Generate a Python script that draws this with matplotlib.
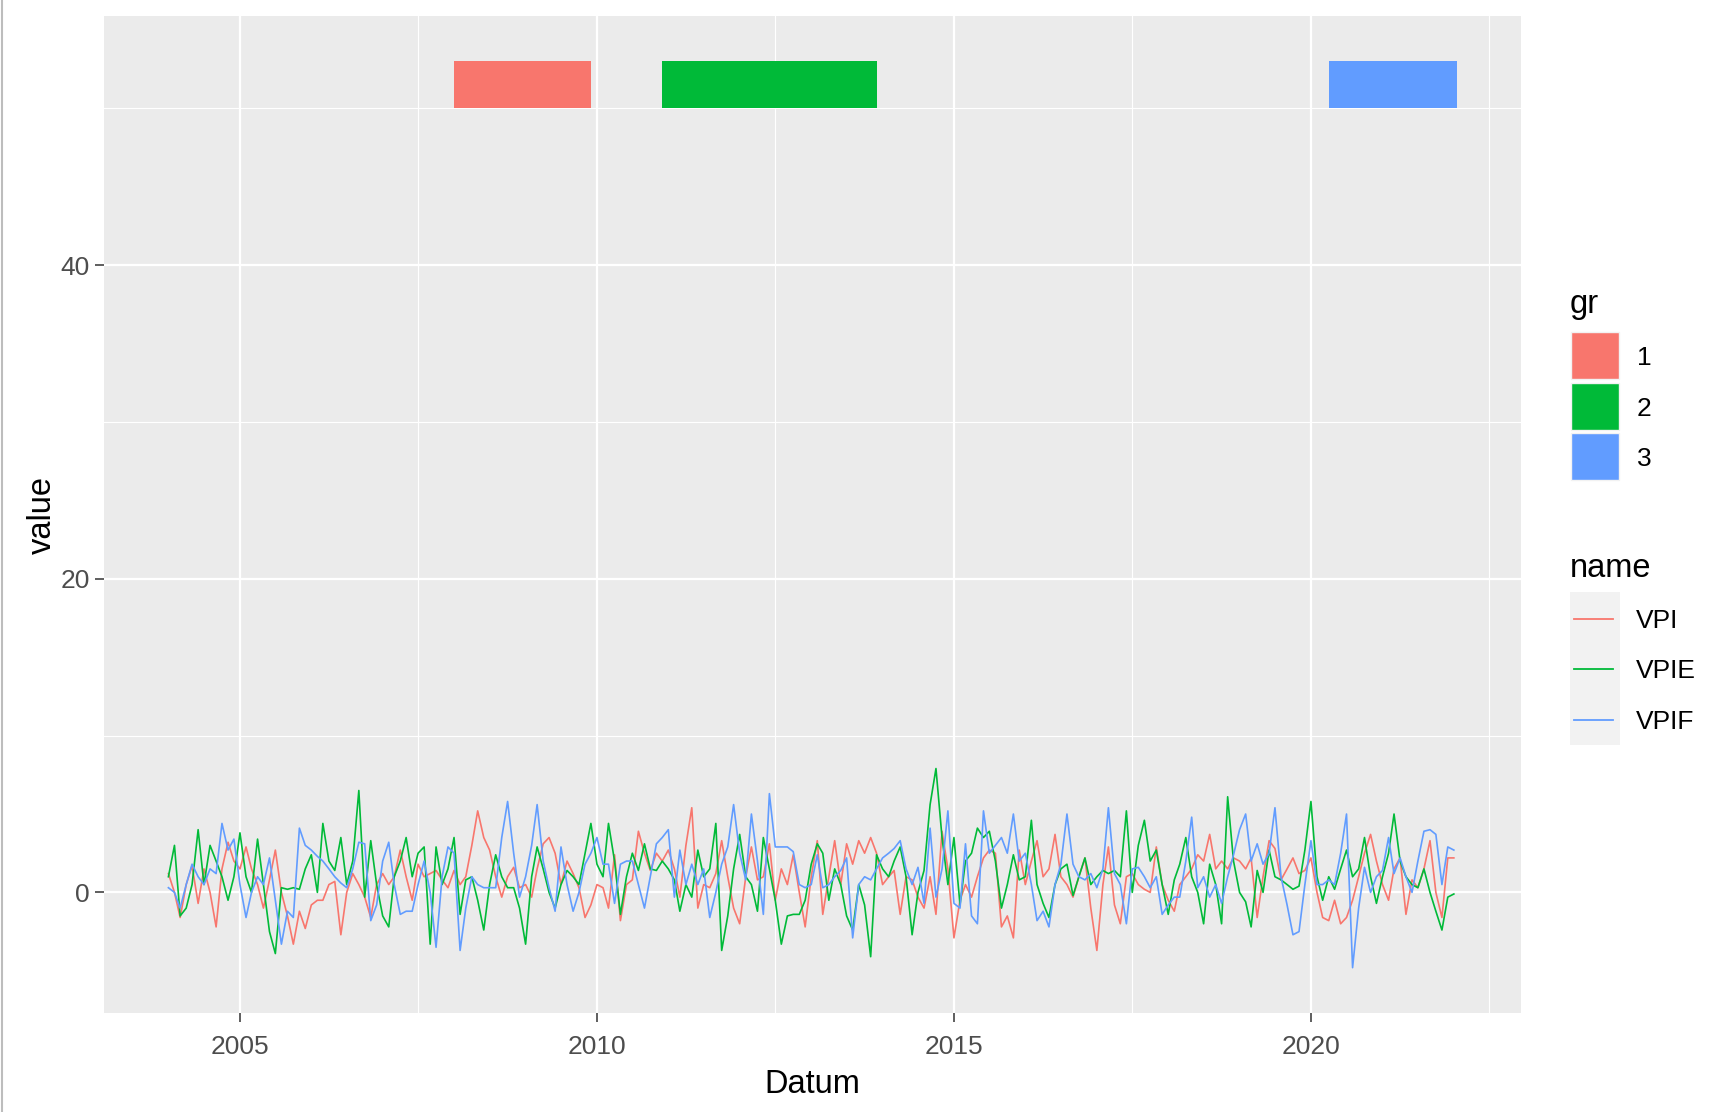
import matplotlib
matplotlib.use("Agg")
import matplotlib.pyplot as plt
import matplotlib.dates as mdates
from matplotlib.patches import Rectangle
from matplotlib.lines import Line2D
import pandas as pd
import numpy as np

plt.rcParams['font.family'] = ['Liberation Sans', 'DejaVu Sans']

# ---------------- data (monthly from Jan 2004) ----------------
start_month = "2004-01-01"

vpi = [1.2, 0.0, -1.6, 0.5, 1.7, -0.7, 1.5, 0.0, -2.2, 1.5, 3.2, 2.0,
       1.5, 2.9, 1.5, 0.5, -1.0, 0.8, 2.7, 0.0, -1.5, -3.3, -1.2, -2.3,
       -0.8, -0.5, -0.5, 0.5, 0.7, -2.7, 0.0, 1.2, 0.5, -0.3, -1.6, 0.5,
       1.2, 0.5, 1.0, 2.7, 1.0, -0.5, 1.8, 1.0, 1.2, 1.4, 0.8, 0.3,
       1.4, 0.5, 1.0, 3.0, 5.2, 3.5, 2.7, 1.0, -0.3, 1.0, 1.6, 0.3,
       0.5, -0.3, 1.5, 3.1, 3.5, 2.5, 0.5, 2.0, 1.2, 0.3, -1.6, -0.8,
       0.5, 0.3, -1.0, 2.4, -1.8, 0.5, 0.8, 3.9, 2.5, 1.4, 2.5, 2.0,
       2.7, 1.5, -0.3, 3.0, 5.4, -1.0, 0.5, 0.3, 1.2, 3.3, 1.0, -1.0,
       -2.0, 1.0, 2.9, 0.8, 1.0, 3.1, -0.5, 1.5, 0.5, 2.4, 0.0, -2.2,
       1.0, 3.3, -1.4, 1.0, 3.3, 0.5, 3.1, 1.8, 3.3, 2.5, 3.5, 2.5,
       0.5, 1.0, 1.4, -1.4, 1.0, 0.8, -0.3, -1.0, 1.0, -1.4, 3.9, 1.5,
       -2.9, -0.5, 0.5, -0.3, 1.0, 2.2, 2.7, 2.5, -2.2, -1.5, -2.9, 2.7,
       0.5, 2.0, 3.3, 1.0, 1.5, 3.7, 1.0, 0.5, -0.3, 1.0, 2.2, -1.0,
       -3.7, 0.5, 2.9, -0.8, -2.0, 1.0, 1.2, 0.5, 0.2, 0.0, 2.9, 0.5,
       -0.5, -1.2, 0.5, 1.0, 1.5, 2.4, 2.0, 3.7, 1.5, 2.0, 1.5, 2.2,
       2.0, 1.5, 2.2, -1.6, 1.0, 3.3, 2.8, 0.8, 1.5, 2.2, 1.2, 1.4,
       2.2, 0.0, -1.6, -1.8, -0.5, -2.0, -1.6, -0.5, 1.0, 2.5, 3.7, 2.0,
       0.5, -0.5, 1.5, 2.2, -1.4, 0.8, 0.3, 1.5, 3.3, 0.0, -1.6, 2.2,
       2.2]

vpie = [1.0, 3.0, -1.5, -1.0, 0.5, 4.0, 0.5, 3.0, 2.0, 1.0, -0.5, 1.0,
        3.8, 1.0, 0.0, 3.4, 0.5, -2.5, -3.9, 0.3, 0.2, 0.3, 0.2, 1.5,
        2.4, 0.0, 4.4, 2.0, 1.4, 3.5, 0.5, 2.0, 6.5, -0.3, 3.3, 0.5,
        -1.5, -2.2, 1.0, 2.0, 3.5, 1.0, 2.5, 2.9, -3.3, 2.9, 0.5, 1.5,
        3.5, -1.4, 0.8, 1.0, -0.5, -2.4, 0.5, 2.4, 1.0, 0.3, 0.3, -1.0,
        -3.3, 1.0, 2.9, 1.5, 0.0, -1.0, 0.5, 1.4, 1.0, 0.5, 2.5, 4.4,
        1.8, 1.0, 4.4, 2.0, -1.4, 1.0, 2.5, 1.4, 3.1, 1.5, 1.4, 2.0,
        1.5, 0.8, -1.2, 0.5, -0.3, 2.7, 1.0, 1.5, 4.4, -3.7, -1.5, 1.5,
        3.7, 1.0, 0.5, -1.2, 3.5, 1.5, -0.5, -3.3, -1.5, -1.4, -1.4, -0.5,
        1.8, 3.1, 2.5, -0.5, 1.5, 0.5, -1.5, -2.4, 0.5, -0.8, -4.1, 2.4,
        1.5, 1.0, 2.0, 2.9, 1.0, -2.7, 0.0, 1.4, 5.6, 7.9, 3.5, 0.5,
        3.5, -0.8, 2.0, 2.5, 4.1, 3.5, 3.9, 2.0, -1.0, 0.5, 2.4, 0.8,
        1.0, 4.6, 0.5, -0.7, -1.6, 0.5, 1.5, 1.8, -0.2, 1.0, 2.2, 0.5,
        1.0, 1.4, 1.2, 1.4, 1.0, 5.2, 0.0, 3.0, 4.6, 2.0, 2.7, 0.5,
        -1.4, 0.8, 1.8, 3.5, 1.0, 0.0, -2.0, 1.8, 0.5, -2.0, 6.1, 2.0,
        0.0, -0.6, -2.2, 1.4, 0.0, 2.7, 1.0, 0.8, 0.5, 0.2, 0.4, 2.7,
        5.8, 1.0, -0.5, 1.0, 0.2, 1.5, 2.7, 1.0, 1.5, 3.5, 1.0, -0.7,
        1.0, 2.5, 5.0, 2.0, 1.0, 0.5, 0.3, 1.5, 0.0, -1.2, -2.4, -0.3,
        -0.1]

vpif = [0.3, 0.0, -1.0, 0.5, 1.8, 1.0, 0.5, 1.5, 1.2, 4.4, 2.7, 3.4,
        0.5, -1.6, 0.0, 1.0, 0.5, 2.2, -0.5, -3.3, -1.2, -1.6, 4.1, 3.0,
        2.7, 2.3, 2.0, 1.5, 1.0, 0.6, 0.3, 1.5, 3.2, 3.1, -1.8, -0.8,
        2.0, 3.2, 0.5, -1.4, -1.2, -1.2, 0.5, 2.0, 0.0, -3.5, 1.0, 2.9,
        2.5, -3.7, -1.0, 1.0, 0.5, 0.3, 0.3, 0.3, 3.5, 5.8, 2.5, -0.3,
        1.0, 3.0, 5.6, 2.0, 0.3, -1.2, 2.9, 0.5, -1.2, 0.0, 1.8, 2.5,
        3.5, 1.8, 1.8, -0.7, 1.8, 2.0, 2.0, 0.5, -1.0, 1.0, 3.1, 3.5,
        4.0, -0.3, 2.7, 0.5, 1.8, 0.5, 1.5, -1.6, 0.0, 1.8, 2.9, 5.6,
        2.5, 0.8, 5.0, 2.0, -1.4, 6.3, 2.9, 2.9, 2.9, 2.6, 0.5, 0.3,
        0.5, 2.4, 0.3, 0.5, 1.0, 1.4, 2.2, -2.9, 0.5, 1.0, 0.8, 1.5,
        2.2, 2.5, 2.8, 3.3, 1.5, 0.5, 1.6, -0.7, 4.1, -0.3, 1.5, 5.2,
        -0.7, -1.0, 3.1, -1.5, -2.0, 5.2, 2.5, 3.0, 3.5, 2.5, 5.0, 2.0,
        2.5, 0.5, -1.8, -1.2, -2.2, 0.5, 1.8, 5.0, 1.8, 1.0, 0.8, 1.2,
        0.3, 1.5, 5.4, 1.2, 0.5, -2.0, 1.5, 1.6, 1.0, 0.3, 1.0, -1.4,
        -0.8, -0.3, -0.3, 2.0, 4.8, 0.3, 1.0, -0.3, 0.5, -0.7, 1.0, 2.4,
        4.0, 5.0, 2.0, 3.1, 1.8, 2.5, 5.4, 1.0, -0.8, -2.7, -2.5, 0.5,
        3.3, 0.5, 0.5, 0.8, 0.5, 2.5, 5.0, -4.8, -1.0, 1.6, 0.0, 1.0,
        1.4, 3.5, 1.2, 2.2, 1.0, 0.0, 2.0, 3.9, 4.0, 3.7, 0.5, 2.9,
        2.7]

series_names = ["VPI", "VPIE", "VPIF"]
series_values = [vpi, vpie, vpif]

gr_labels = ["1", "2", "3"]
gr_xmin = ["2008-01-01", "2010-12-01", "2020-04-01"]
gr_xmax = ["2009-12-01", "2013-12-01", "2022-01-15"]
gr_ymin = [50, 50, 50]
gr_ymax = [53, 53, 53]

x_tick_years = [2005, 2010, 2015, 2020]
y_ticks = [0, 20, 40]

# ---------------- style ----------------
hue = ["#F8766D", "#00BA38", "#619CFF"]
W, H = 1722, 1112
fig = plt.figure(figsize=(W / 100, H / 100), dpi=100)
fig.patch.set_facecolor("white")

L, R, T, B = 104, 1521, 16, 1013
ax = fig.add_axes([L / W, 1 - B / H, (R - L) / W, (B - T) / H])
ax.set_facecolor("#EBEBEB")
for s in ax.spines.values():
    s.set_visible(False)

dates = pd.date_range(start_month, periods=len(vpi), freq="MS")

for i, (nm, vals) in enumerate(zip(series_names, series_values)):
    ax.plot(dates, vals, color=hue[i], lw=1.2, zorder=3)

for i in range(len(gr_labels)):
    x0 = mdates.date2num(pd.Timestamp(gr_xmin[i]))
    x1 = mdates.date2num(pd.Timestamp(gr_xmax[i]))
    ax.add_patch(Rectangle((x0, gr_ymin[i]), x1 - x0, gr_ymax[i] - gr_ymin[i],
                           facecolor=hue[i], edgecolor="none", zorder=3))

# ticks first (setting ticks can widen the view), then limits
xt = [mdates.date2num(pd.Timestamp(f"{y}-01-01")) for y in x_tick_years]
ax.set_xticks(xt)
ax.set_xticklabels([str(y) for y in x_tick_years])
xminor = [mdates.date2num(pd.Timestamp(f"{y}-07-02")) for y in [2007, 2012, 2017, 2022]]
ax.set_xticks(xminor, minor=True)
ax.set_yticks(y_ticks)
ax.set_yticklabels([str(v) for v in y_ticks])
ax.set_yticks([10, 30, 50], minor=True)

# limits with ggplot-like 5% expansion
all_vals = np.concatenate([np.asarray(v) for v in series_values])
ylo, yhi = min(all_vals.min(), min(gr_ymin)), max(all_vals.max(), max(gr_ymax))
pad = 0.05 * (yhi - ylo)
ax.set_ylim(ylo - pad, yhi + pad)
xlo = mdates.date2num(dates[0])
xhi = max(mdates.date2num(dates[-1]), max(mdates.date2num(pd.Timestamp(d)) for d in gr_xmax))
xpad = 0.05 * (xhi - xlo)
ax.set_xlim(xlo - xpad, xhi + xpad)

ax.grid(which="major", color="white", lw=1.6, zorder=1)
ax.grid(which="minor", color="white", lw=0.8, zorder=1)
ax.set_axisbelow(True)
ax.tick_params(which="major", length=6.2, width=1.1, color="#333333",
               labelsize=19, labelcolor="#4D4D4D")
ax.tick_params(axis="x", which="major", pad=9.5)
ax.tick_params(axis="y", which="major", pad=4)
ax.tick_params(which="minor", length=0)

ax.set_xlabel("Datum", fontsize=23.5, color="black", labelpad=7)
ax.set_ylabel("value", fontsize=23.5, color="black", labelpad=2)

# ---------------- legends (pixel overlay) ----------------
ov = fig.add_axes([0, 0, 1, 1], zorder=5)
ov.set_xlim(0, W)
ov.set_ylim(H, 0)
ov.axis("off")

ov.text(1570, 313, "gr", fontsize=23.5, ha="left", va="baseline")
key_tops = [332, 383, 433]
for i, lab in enumerate(gr_labels):
    ov.add_patch(Rectangle((1571, key_tops[i]), 48, 47, facecolor=hue[i],
                           edgecolor="#F2F2F2", lw=1.0))
    ov.text(1637, key_tops[i] + 26, lab, fontsize=19, ha="left", va="center")

ov.text(1570, 577, "name", fontsize=23.5, ha="left", va="baseline")
ov.add_patch(Rectangle((1570, 592), 50, 153, facecolor="#F2F2F2", edgecolor="none"))
line_y = [619, 669, 720]
for i, nm in enumerate(series_names):
    ov.add_line(Line2D([1574, 1613], [line_y[i], line_y[i]], color=hue[i], lw=1.3))
    ov.text(1636, line_y[i] + 2, nm, fontsize=19, ha="left", va="center")

# thin grey frame line at the left edge of the screenshot
ov.add_line(Line2D([1.5, 1.5], [0, H], color="#BDBDBD", lw=1.5))

fig.savefig("out.png", dpi=100, facecolor="white")
